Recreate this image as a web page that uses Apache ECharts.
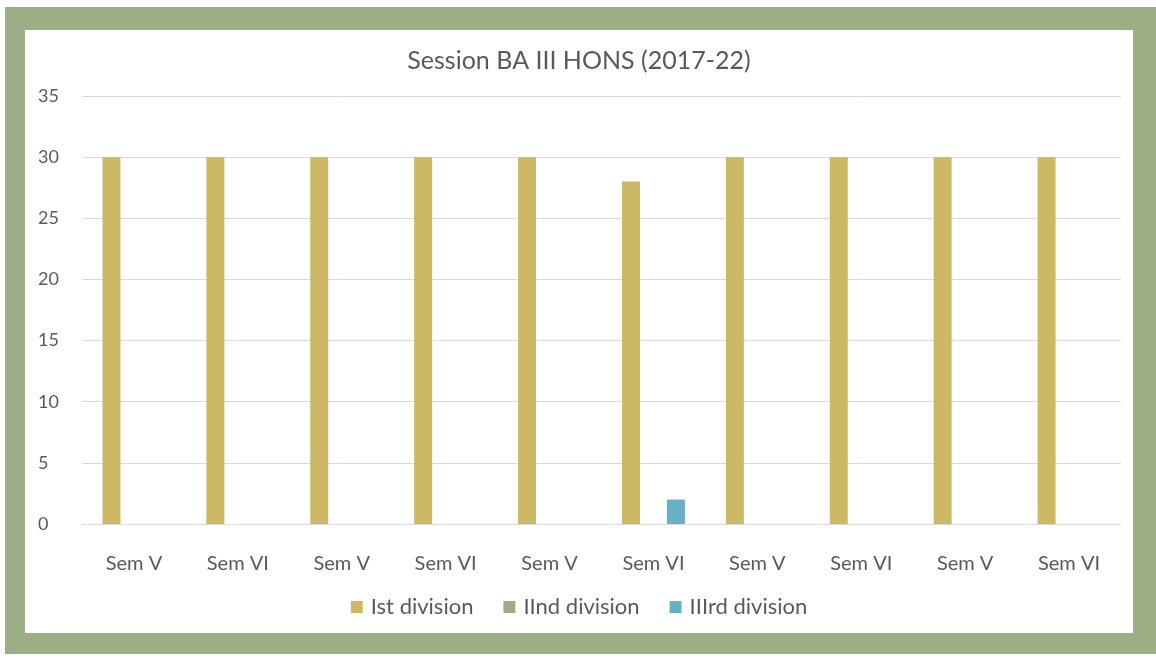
<!DOCTYPE html>
<html>
<head>
<meta charset="utf-8">
<script src="https://cdn.jsdelivr.net/npm/echarts@6/dist/echarts.min.js"></script>
<style>
    html, body { margin: 0; padding: 0; background: #fff; }
    .frame {
        position: absolute; left: 5px; top: 7px; width: 1151px; height: 647px;
        background: #9caf84;
    }
    .base_bar {
        position: absolute; left: 25px; top: 30px; width: 1108px; height: 603px;
        background: #fff;
    }
</style>
</head>
<body>
<div class="frame"></div>
<div id="bar1" class="base_bar"></div>
<script>
    // 数据
    var categories = ['Sem V', 'Sem VI', 'Sem V', 'Sem VI', 'Sem V', 'Sem VI', 'Sem V', 'Sem VI', 'Sem V', 'Sem VI'];
    var legendData = ['Ist division', 'IInd division', 'IIIrd division'];
    var firstDiv = [30, 30, 30, 30, 30, 28, 30, 30, 30, 30];
    var secondDiv = [0, 0, 0, 0, 0, 0, 0, 0, 0, 0];
    var thirdDiv = [0, 0, 0, 0, 0, 2, 0, 0, 0, 0];
    var colorList = ['#cdb866', '#9caf84', '#68afc8'];

    var font = 'Lato, "Open Sans", sans-serif';
    var seriesData = [firstDiv, secondDiv, thirdDiv];

    var _option = {
        animation: false,
        textStyle: { fontFamily: font },
        title: {
            text: 'Session BA III HONS (2017-22)',
            left: 'center',
            top: 13,
            textStyle: { color: '#595959', fontSize: 25, fontWeight: 'normal', fontFamily: font }
        },
        legend: {
            data: legendData,
            bottom: 10,
            left: 'center',
            itemWidth: 12,
            itemHeight: 12,
            itemGap: 30,
            icon: 'rect',
            textStyle: { color: '#595959', fontSize: 22, fontFamily: font, padding: [0, 0, 0, 3] }
        },
        grid: { left: 57, right: 12, top: 66, bottom: 109 },
        xAxis: {
            type: 'category',
            data: categories,
            axisLine: { lineStyle: { color: '#d9d9d9' } },
            axisTick: { show: false },
            axisLabel: { color: '#595959', fontSize: 20, margin: 30, fontFamily: font }
        },
        yAxis: {
            type: 'value',
            min: 0,
            max: 35,
            interval: 5,
            axisLine: { show: false },
            axisTick: { show: false },
            axisLabel: { color: '#595959', fontSize: 18, margin: 44, align: 'left', fontFamily: font },
            splitLine: { lineStyle: { color: '#d9d9d9' } }
        },
        series: []
    };
    for (var i = 0; i < seriesData.length; i++) {
        _option.series.push({
            name: legendData[i],
            type: 'bar',
            data: seriesData[i],
            barWidth: 18,
            barGap: '25%',
            itemStyle: { color: colorList[i] }
        });
    }
    var myChart = echarts.init(document.getElementById('bar1'));
    myChart.setOption(_option);
</script>
</body>
</html>
